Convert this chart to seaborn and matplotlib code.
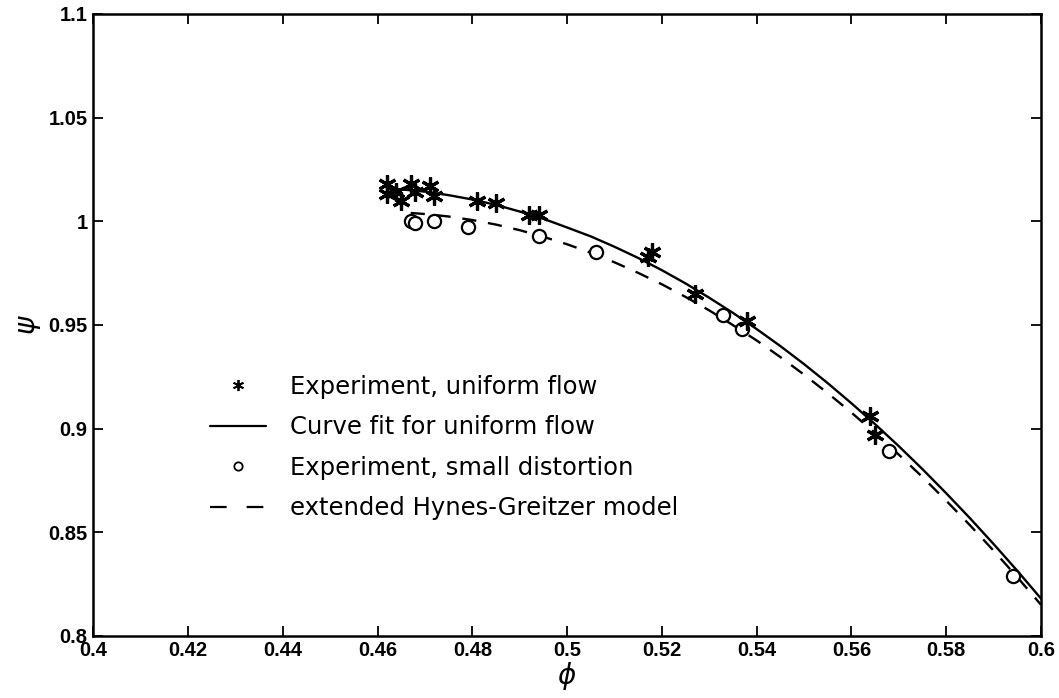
import matplotlib
matplotlib.use("Agg")
import matplotlib.pyplot as plt
import seaborn as sns
import pandas as pd
from matplotlib.lines import Line2D

# Experiment, uniform flow (stars)
star_phi = [0.462, 0.462, 0.464, 0.465, 0.467, 0.468, 0.471, 0.472, 0.481, 0.485,
            0.492, 0.494, 0.517, 0.518, 0.527, 0.538, 0.564, 0.565]
star_psi = [1.018, 1.013, 1.014, 1.010, 1.018, 1.014, 1.017, 1.012, 1.010, 1.009,
            1.003, 1.003, 0.983, 0.985, 0.965, 0.952, 0.906, 0.897]

# Experiment, small distortion (circles)
circ_phi = [0.467, 0.468, 0.472, 0.479, 0.494, 0.506, 0.533, 0.537, 0.568, 0.594]
circ_psi = [1.000, 0.999, 1.000, 0.997, 0.993, 0.985, 0.955, 0.948, 0.889, 0.829]

# Curve fit for uniform flow (solid)
fit_phi = [0.462, 0.470, 0.475, 0.480, 0.485, 0.490, 0.495, 0.500, 0.505, 0.510,
           0.515, 0.520, 0.525, 0.530, 0.535, 0.540, 0.545, 0.550, 0.555, 0.560,
           0.565, 0.570, 0.575, 0.580, 0.585, 0.590, 0.595, 0.600]
fit_psi = [1.0160, 1.0143, 1.0126, 1.0105, 1.0079, 1.0047, 1.0012, 0.9970, 0.9927, 0.9877,
           0.9823, 0.9764, 0.9700, 0.9631, 0.9558, 0.9480, 0.9398, 0.9311, 0.9219, 0.9122,
           0.9021, 0.8915, 0.8804, 0.8688, 0.8568, 0.8443, 0.8314, 0.8180]

# extended Hynes-Greitzer model (dashed)
hg_phi = [0.467, 0.470, 0.475, 0.480, 0.485, 0.490, 0.495, 0.500, 0.505, 0.510,
          0.515, 0.520, 0.525, 0.530, 0.535, 0.540, 0.545, 0.550, 0.555, 0.560,
          0.565, 0.570, 0.575, 0.580, 0.585, 0.590, 0.595, 0.600]
hg_psi = [1.0040, 1.0035, 1.0023, 1.0006, 0.9984, 0.9957, 0.9925, 0.9889, 0.9848, 0.9802,
          0.9751, 0.9696, 0.9635, 0.9570, 0.9499, 0.9425, 0.9345, 0.9260, 0.9171, 0.9077,
          0.8978, 0.8874, 0.8766, 0.8652, 0.8534, 0.8411, 0.8283, 0.8150]

labels = ["Experiment, uniform flow", "Curve fit for uniform flow",
          "Experiment, small distortion", "extended Hynes-Greitzer model"]

sns.set_theme(style="ticks")
plt.rcParams['font.family'] = ['Liberation Sans', 'DejaVu Sans']
plt.rcParams['text.color'] = 'black'
plt.rcParams['axes.labelcolor'] = 'black'
plt.rcParams['xtick.color'] = 'black'
plt.rcParams['ytick.color'] = 'black'

fig = plt.figure(figsize=(10.59, 6.98), dpi=100)
ax = fig.add_axes([0.088, 0.089, 0.895, 0.891])

df_fit = pd.DataFrame({"phi": fit_phi, "psi": fit_psi})
df_hg = pd.DataFrame({"phi": hg_phi, "psi": hg_psi})
df_circ = pd.DataFrame({"phi": circ_phi, "psi": circ_psi})

sns.lineplot(data=df_fit, x="phi", y="psi", ax=ax, color="black", lw=1.7,
             estimator=None, sort=False)
sns.lineplot(data=df_hg, x="phi", y="psi", ax=ax, color="black", lw=1.7,
             estimator=None, sort=False, linestyle=(0, (6, 5)))
ax.plot(star_phi, star_psi, linestyle="none", marker=(6, 2, 0), markersize=13,
        markeredgewidth=2.3, color="black", zorder=4)
sns.scatterplot(data=df_circ, x="phi", y="psi", ax=ax, marker="o", s=90,
                facecolor="white", edgecolor="black", linewidth=1.6, zorder=3)

ax.set_xlim(0.4, 0.6)
ax.set_ylim(0.8, 1.1)
ax.set_xticks([0.4, 0.42, 0.44, 0.46, 0.48, 0.5, 0.52, 0.54, 0.56, 0.58, 0.6])
ax.set_xticklabels(["0.4", "0.42", "0.44", "0.46", "0.48", "0.5", "0.52", "0.54",
                    "0.56", "0.58", "0.6"])
ax.set_yticks([0.8, 0.85, 0.9, 0.95, 1.0, 1.05, 1.1])
ax.set_yticklabels(["0.8", "0.85", "0.9", "0.95", "1", "1.05", "1.1"])
ax.tick_params(direction="in", top=True, right=True, length=7, width=1.3,
               labelsize=14.5, pad=4, colors="black")
for t in ax.get_xticklabels() + ax.get_yticklabels():
    t.set_fontweight("bold")
for s in ax.spines.values():
    s.set_linewidth(1.8)
    s.set_color("black")
ax.set_xlabel(r"$\phi$", fontsize=20, labelpad=0, color="black")
ax.set_ylabel(r"$\psi$", fontsize=20, labelpad=4, color="black")

handles = [
    Line2D([], [], linestyle="none", marker=(6, 2, 0), markersize=8,
           markeredgewidth=1.3, color="black"),
    Line2D([], [], color="black", lw=1.6),
    Line2D([], [], linestyle="none", marker="o", markersize=6, markerfacecolor="white",
           markeredgecolor="black", markeredgewidth=1.3),
    Line2D([], [], color="black", lw=1.6, linestyle=(0, (7.5, 9))),
]
leg = ax.legend(handles, labels, loc="upper left", bbox_to_anchor=(0.1, 0.455),
                frameon=False, prop={"family": "DejaVu Sans", "size": 17.5},
                handlelength=2.3, handletextpad=1.0, labelspacing=0.68)
for t in leg.get_texts():
    t.set_color("black")

fig.savefig("out.png", dpi=100)
